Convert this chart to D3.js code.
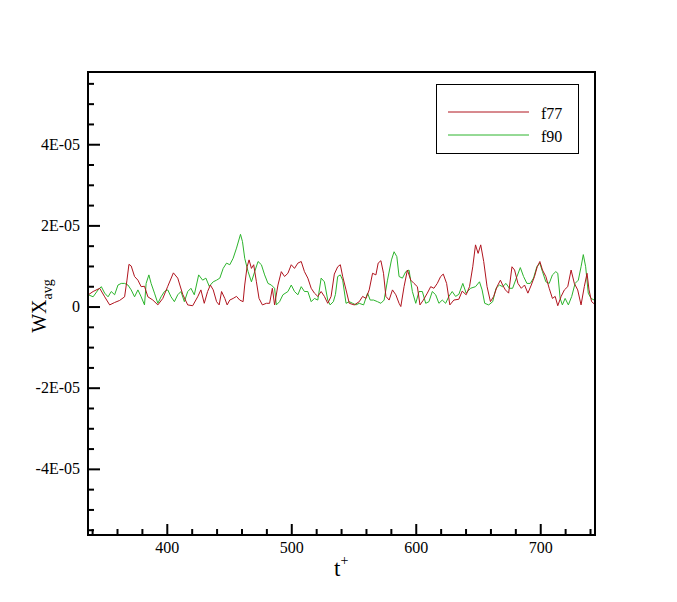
<!DOCTYPE html>
<html><head><meta charset="utf-8">
<script src="https://cdn.jsdelivr.net/npm/d3@7"></script>
<style>body{margin:0;background:#fff}svg{display:block}text{font-family:"Liberation Serif","Times New Roman",serif;fill:#000}</style>
</head><body>
<script>
const xTicks = [400, 500, 600, 700];
const yTickValues = [-4e-5, -2e-5, 0, 2e-5, 4e-5];
const yTickLabels = ["-4E-05", "-2E-05", "0", "2E-05", "4E-05"];
const seriesNames = ["f77", "f90"];
const seriesColors = ["#b0141e", "#2cb42c"];

const f77_t = [337,340.8,346.1,350.1,354.1,358.1,362.1,366.1,368.0,369.6,371.4,374.1,376.8,379.4,382.1,384.8,388.8,392.8,396.8,400.8,405.3,408.8,412.8,416.8,420.8,424.8,427.4,430.1,432.8,435.0,437.3,440.0,442.1,444.0,446.6,448.5,450.6,453.3,456.0,458.6,461.3,462.6,464.5,466.1,468.0,469.8,472.0,474.1,476.8,480.0,482.6,484.8,486.6,489.3,492.0,494.6,497.3,500.0,502.6,505.3,508.0,510.6,513.3,516.0,518.6,521.3,524.0,526.6,529.3,532.0,534.6,537.3,539.4,541.3,544.0,546.6,550.6,554.6,557.3,560.0,562.6,565.3,568.0,569.8,572.0,574.1,576.0,578.6,581.3,584.0,586.6,588.0,590.6,593.3,596.0,598.6,601.3,603.4,606.1,609.3,612.0,614.6,617.3,620.0,622.1,624.8,627.4,630.6,634.6,637.3,640.5,643.2,645.8,648.0,650.1,652.2,654.6,657.3,660.0,662.6,665.3,668.0,669.8,672.0,674.6,677.3,679.4,682.1,684.8,687.4,690.1,692.8,695.4,697.6,699.7,701.8,704.5,707.2,709.8,712.0,714.1,716.8,719.4,722.1,724.8,727.4,730.1,732.8,735.4,737.6,739.2,741.3,744];
const f77_v = [0.29,0.37,0.45,0.24,0.04,0.10,0.15,0.24,0.65,1.04,1.00,0.74,0.65,0.49,0.50,0.24,0.16,0.04,0.20,0.50,0.83,0.70,0.30,0.04,0.02,0.24,0.41,0.08,0.37,0.53,0.41,0.12,0.04,0.37,0.20,0.04,0.16,0.20,0.25,0.16,0.12,0.53,0.98,1.15,0.94,1.03,0.61,0.20,0.04,0.08,0.08,0.45,0.04,0.53,0.86,0.74,0.82,1.03,0.94,1.07,1.11,0.86,0.70,0.45,0.33,0.25,0.37,0.25,0.08,0.25,0.80,0.98,1.03,0.74,0.41,0.08,0.04,0.12,0.25,0.20,0.41,0.82,0.78,1.07,1.13,0.82,0.25,0.16,0.41,0.29,0.08,0.00,0.49,0.90,0.65,0.57,0.49,0.04,0.16,0.33,0.49,0.45,0.57,0.74,0.80,0.57,0.04,0.16,0.18,0.38,0.29,0.49,0.98,1.52,1.31,1.52,1.11,0.49,0.12,0.25,0.49,0.65,0.53,0.41,0.33,0.98,0.90,0.57,0.45,0.53,0.33,0.53,0.74,0.98,1.11,0.90,0.74,0.45,0.20,0.25,0.02,0.25,0.41,0.49,0.90,0.57,0.41,0.04,0.49,0.82,0.41,0.12,0.05];

const f90_t = [337,340.8,344.8,347.4,350.1,352.8,355.4,358.1,360.8,363.4,366.1,368.8,371.4,374.1,376.8,379.4,382.1,383.4,385.6,387.4,390.1,392.8,395.4,398.1,400.8,403.4,406.1,408.8,411.4,414.1,416.8,419.4,422.1,425.6,428.8,431.4,434.1,437.3,440.0,442.6,445.3,448.0,450.6,453.3,456.0,459.2,460.8,462.6,465.3,468.0,470.6,473.3,476.0,478.6,481.3,484.0,486.6,488.0,490.6,493.3,497.3,500.0,502.6,505.3,508.0,510.6,513.3,516.0,518.6,521.3,524.0,526.6,529.3,531.2,533.8,535.5,537.3,539.4,541.3,544.0,546.6,549.3,552.0,554.6,558.1,561.3,563.4,566.1,569.3,572.0,574.6,577.3,580.5,582.6,584.8,586.6,589.3,592.0,594.6,597.3,600.0,602.6,605.3,608.0,610.6,613.3,616.0,618.6,621.3,624.0,626.6,629.3,632.0,634.6,637.8,640.5,644.0,648.0,651.2,653.3,655.4,658.6,661.8,664.5,667.2,669.8,672.5,675.2,677.8,681.3,684.0,686.6,689.3,692.0,694.6,697.3,699.7,701.8,704.5,707.2,709.8,712.5,714.1,716.0,717.8,720.0,722.6,725.3,728.0,730.6,732.8,734.6,736.5,738.6,740.8,744];
const f90_v = [0.29,0.24,0.41,0.49,0.33,0.24,0.37,0.29,0.53,0.57,0.57,0.53,0.41,0.24,0.41,0.24,0.04,0.57,0.78,0.57,0.33,0.08,0.24,0.37,0.41,0.24,0.12,0.29,0.37,0.12,0.37,0.45,0.29,0.78,0.65,0.70,0.50,0.61,0.65,0.70,0.94,1.07,1.03,1.19,1.44,1.78,1.60,1.19,0.86,0.61,0.86,1.11,1.03,0.78,0.57,0.53,0.45,0.04,0.12,0.29,0.37,0.53,0.37,0.29,0.49,0.37,0.37,0.12,0.20,0.16,0.70,0.61,0.16,0.04,0.12,0.30,0.74,0.78,0.65,0.08,0.12,0.08,0.04,0.08,0.04,0.33,0.16,0.16,0.12,0.08,0.16,0.65,1.15,1.35,1.23,0.74,0.70,0.86,0.90,0.37,0.08,0.37,0.37,0.08,0.12,0.37,0.29,0.08,0.16,0.08,0.25,0.37,0.25,0.30,0.57,0.33,0.45,0.49,0.61,0.41,0.08,0.04,0.12,0.45,0.53,0.49,0.57,0.45,0.45,0.74,0.96,0.74,0.57,0.57,0.70,0.98,1.07,0.86,0.61,0.57,0.78,0.86,0.82,0.20,0.04,0.20,0.04,0.25,0.57,0.65,0.98,1.28,0.98,0.33,0.20,0.15];

const W = 677, H = 602;
const L = 88, R = 595, T = 72, B = 535;
const svg = d3.select("body").append("svg").attr("width", W).attr("height", H);

const x = d3.scaleLinear().domain([336.7, 744]).range([L, R]);
const y = d3.scaleLinear().domain([-5.63e-5, 5.78e-5]).range([B, T]);

svg.append("clipPath").attr("id", "clip").append("rect")
  .attr("x", L).attr("y", T).attr("width", R - L).attr("height", B - T);

const series = [
  {t: f77_t, v: f77_v},
  {t: f90_t, v: f90_v}
];
const line = d3.line().x(d => x(d[0])).y(d => y(d[1] * 1e-5));
[1, 0].forEach(i => {
  const pts = series[i].t.map((t, k) => [t, series[i].v[k]]);
  svg.append("path").attr("clip-path", "url(#clip)")
    .attr("d", line(pts)).attr("fill", "none")
    .attr("stroke", seriesColors[i]).attr("stroke-width", 1);
});

const xMinor = d3.range(340, 744, 20).filter(v => !xTicks.includes(v));
const xAxis = d3.axisBottom(x).tickValues(xTicks).tickSize(-11).tickPadding(7).tickFormat(d3.format("d"));
const gx = svg.append("g").attr("transform", `translate(0,${B})`).call(xAxis);
const gxm = svg.append("g").attr("transform", `translate(0,${B})`)
  .call(d3.axisBottom(x).tickValues(xMinor).tickSize(-6).tickFormat(""));
const yMinor = d3.range(-11, 12).map(k => k * 0.5e-5).filter(v => !yTickValues.some(m => Math.abs(m - v) < 1e-12));
const yAxis = d3.axisLeft(y).tickValues(yTickValues).tickSize(-12).tickPadding(8)
  .tickFormat((d, i) => yTickLabels[i]);
const gy = svg.append("g").attr("transform", `translate(${L},0)`).call(yAxis);
const gym = svg.append("g").attr("transform", `translate(${L},0)`)
  .call(d3.axisLeft(y).tickValues(yMinor).tickSize(-6).tickFormat(""));
[gx, gxm, gy, gym].forEach(g => {
  g.attr("font-family", "Liberation Serif, serif");
  g.select(".domain").remove();
  g.selectAll("line").attr("stroke", "#000").attr("stroke-width", 2);
  g.selectAll("text").attr("font-size", 16).attr("font-family", "Liberation Serif, serif").attr("fill", "#000");
});

svg.append("rect").attr("x", L).attr("y", T).attr("width", R - L).attr("height", B - T)
  .attr("fill", "none").attr("stroke", "#000").attr("stroke-width", 2);

const xt = svg.append("text").attr("x", 334).attr("y", 576).attr("font-size", 23);
xt.append("tspan").text("t");
xt.append("tspan").attr("font-size", 14).attr("dy", -11).text("+");

const yt = svg.append("text").attr("transform", "translate(46,306) rotate(-90)")
  .attr("text-anchor", "middle").attr("font-size", 20);
yt.append("tspan").text("WX");
yt.append("tspan").attr("font-size", 14).attr("dy", 6).text("avg");

const lg = svg.append("g");
lg.append("rect").attr("x", 436.5).attr("y", 84.5).attr("width", 142).attr("height", 69)
  .attr("fill", "#fff").attr("stroke", "#000").attr("stroke-width", 1);
const legY = [112, 135];
seriesNames.forEach((n, i) => {
  lg.append("line").attr("x1", 448).attr("x2", 529).attr("y1", legY[i]).attr("y2", legY[i])
    .attr("stroke", seriesColors[i]).attr("stroke-width", 1);
  lg.append("text").attr("x", 541).attr("y", legY[i] + 7).attr("font-size", 16).text(n);
});
</script>
</body></html>
